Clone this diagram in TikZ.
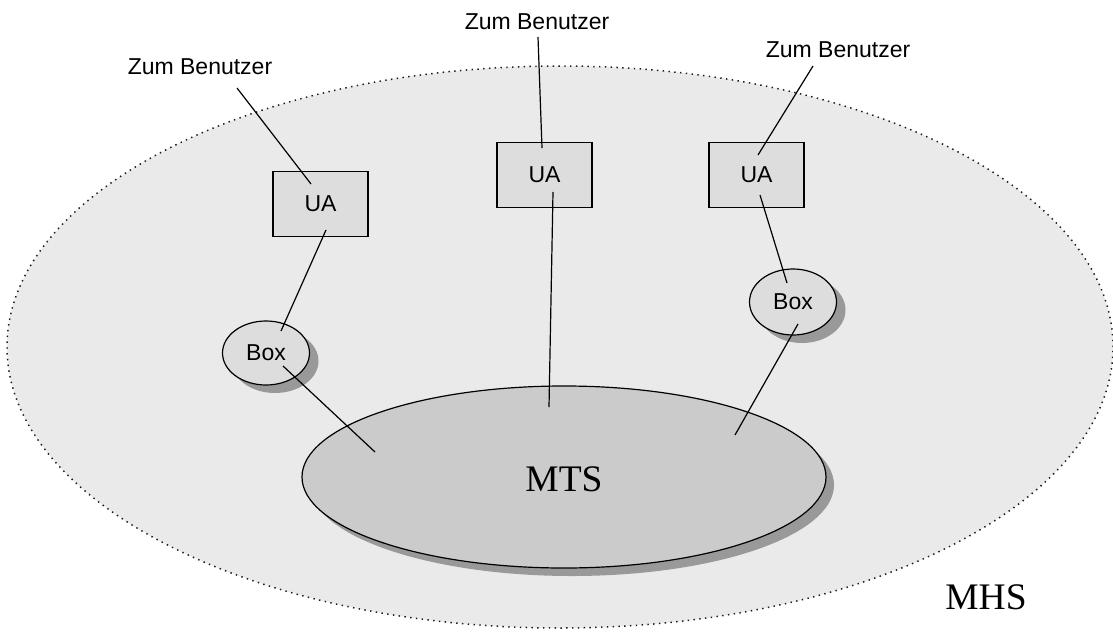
\documentclass[tikz,border=0pt]{standalone}
\usepackage{fontspec}
\setmainfont{Liberation Serif}
\setsansfont{Liberation Sans}
\usetikzlibrary{shapes.geometric,shadows}

\definecolor{mhsfill}{HTML}{EAEAEA}
\definecolor{mtsfill}{HTML}{CBCBCB}
\definecolor{unitfill}{HTML}{DDDDDD}
\definecolor{shade}{HTML}{999999}
\definecolor{dotline}{HTML}{1A1A1A}

\tikzset{
  mhsarea/.style={ellipse, fill=mhsfill, draw=dotline, line width=1.5pt,
    dash pattern=on 1.4pt off 4.4pt, inner sep=0pt},
  core/.style={ellipse, fill=mtsfill, draw=black, line width=1.2pt, inner sep=0pt,
    minimum width=524pt, minimum height=182pt,
    drop shadow={shadow xshift=8pt, shadow yshift=-8pt, fill=shade, opacity=1}},
  mailbox/.style={ellipse, fill=unitfill, draw=black, line width=1.2pt, inner sep=0pt,
    minimum width=87pt, minimum height=64pt,
    font=\sffamily\fontsize{23}{26}\selectfont,
    drop shadow={shadow xshift=9pt, shadow yshift=-8pt, fill=shade, opacity=1}},
  agent/.style={rectangle, fill=unitfill, draw=black, line width=1.2pt, inner sep=0pt,
    minimum width=95pt, minimum height=65pt,
    font=\sffamily\fontsize{23}{26}\selectfont},
  userlabel/.style={inner sep=0pt, font=\sffamily\fontsize{23}{26}\selectfont},
  bigtext/.style={inner sep=0pt, font=\fontsize{37.5}{40}\selectfont},
  wire/.style={draw=black, line width=1.2pt}
}

\begin{document}
\begin{tikzpicture}[x=1pt, y=-1pt]
  \useasboundingbox (0,0) rectangle (1113,642);

  % message handling system area
  \node[mhsarea, minimum width=1106pt, minimum height=562pt] (mhs) at (560,347) {};
  \node[bigtext] (mhslabel) at (986,597) {MHS};

  % message transfer system
  \node[core] (mts) at (564,477) {};
  \node[bigtext] (mtslabel) at (564,479) {MTS};

  % mailboxes
  \node[mailbox] (boxl) at (266,353) {Box};
  \node[mailbox, minimum height=66pt] (boxr) at (793,302) {Box};

  % user agents
  \node[agent] (ual) at (320.5,204) {UA};
  \node[agent] (uam) at (544.5,175) {UA};
  \node[agent] (uar) at (756.5,175) {UA};

  % user labels
  \node[userlabel] (usrl) at (200,67) {Zum Benutzer};
  \node[userlabel] (usrm) at (537,22) {Zum Benutzer};
  \node[userlabel] (usrr) at (838,50) {Zum Benutzer};

  % connector end points
  \coordinate (l1a) at (237,88);  \coordinate (l1b) at (311,184);
  \coordinate (l2a) at (326,230); \coordinate (l2b) at (281,331);
  \coordinate (l3a) at (283,366); \coordinate (l3b) at (375,452);
  \coordinate (m1a) at (538,37);  \coordinate (m1b) at (542,148);
  \coordinate (m2a) at (553,192); \coordinate (m2b) at (549,407);
  \coordinate (r1a) at (813,66);  \coordinate (r1b) at (758,155);
  \coordinate (r2a) at (760,195); \coordinate (r2b) at (787,283);
  \coordinate (r3a) at (798,324); \coordinate (r3b) at (735,435);

  % connectors
  \draw[wire] (l1a) -- (l1b);
  \draw[wire] (l2a) -- (l2b);
  \draw[wire] (l3a) -- (l3b);
  \draw[wire] (m1a) -- (m1b);
  \draw[wire] (m2a) -- (m2b);
  \draw[wire] (r1a) -- (r1b);
  \draw[wire] (r2a) -- (r2b);
  \draw[wire] (r3a) -- (r3b);
\end{tikzpicture}
\end{document}
